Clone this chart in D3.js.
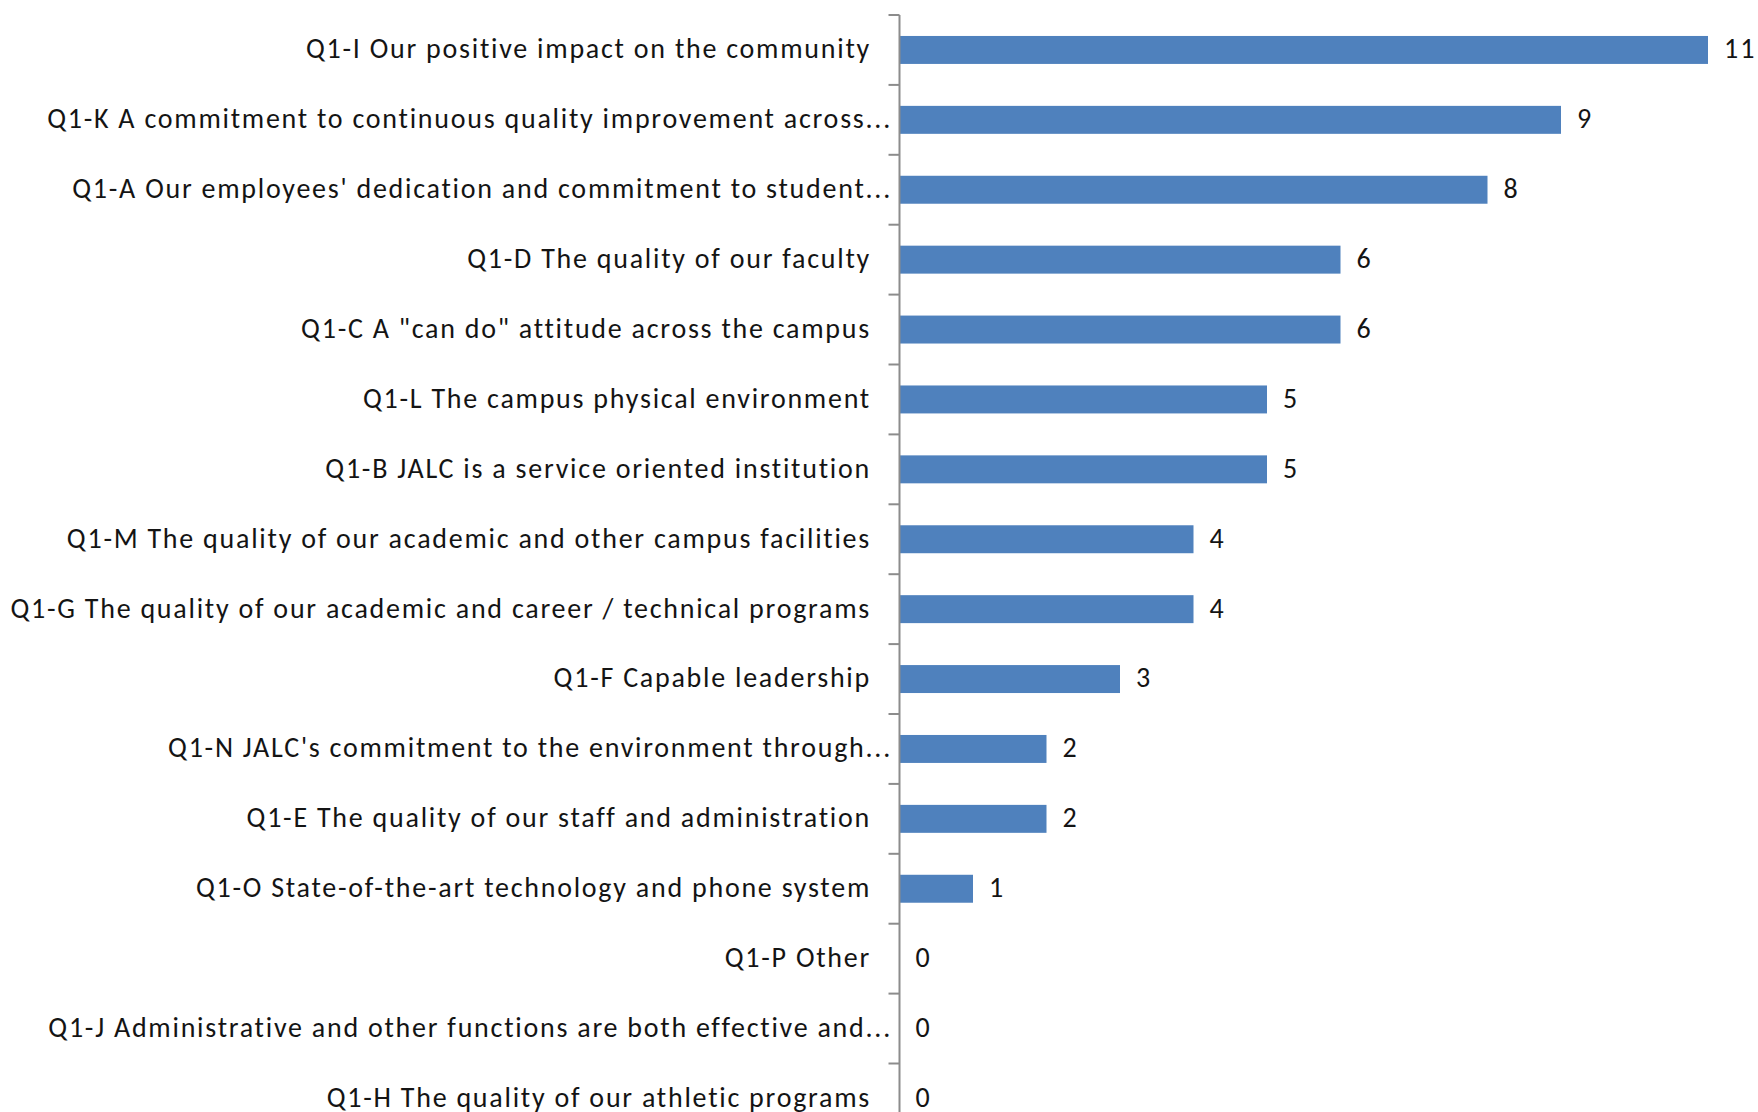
<!DOCTYPE html>
<html>
<head>
<meta charset="utf-8">
<script src="https://cdn.jsdelivr.net/npm/d3@7"></script>
<style>
  html, body { margin: 0; padding: 0; background: #ffffff; }
  svg { display: block; }
  text { font-family: Carlito, Lato, "Open Sans", sans-serif; fill: #141414; }
</style>
</head>
<body>
<svg id="chart" width="1758" height="1112"></svg>
<script>
// Survey item labels (as displayed, long ones truncated) and response counts
const categories = [
  "Q1-I Our positive impact on the community",
  "Q1-K A commitment to continuous quality improvement across...",
  "Q1-A Our employees' dedication and commitment to student...",
  "Q1-D The quality of our faculty",
  "Q1-C A \"can do\" attitude across the campus",
  "Q1-L The campus physical environment",
  "Q1-B JALC is a service oriented institution",
  "Q1-M The quality of our academic and other campus facilities",
  "Q1-G The quality of our academic and career / technical programs",
  "Q1-F Capable leadership",
  "Q1-N JALC's commitment to the environment through...",
  "Q1-E The quality of our staff and administration",
  "Q1-O State-of-the-art technology and phone system",
  "Q1-P Other",
  "Q1-J Administrative and other functions are both effective and...",
  "Q1-H The quality of our athletic programs"
];
const counts = [11, 9, 8, 6, 6, 5, 5, 4, 4, 3, 2, 2, 1, 0, 0, 0];

const svg = d3.select("#chart");
const axisX = 899.5;
const plotTop = 15;
const rowStep = 69.9;

const x = d3.scaleLinear().domain([0, 11]).range([axisX, 1708]);
const y = d3.scaleBand()
  .domain(categories)
  .range([plotTop, plotTop + rowStep * categories.length])
  .paddingInner(0.6)
  .paddingOuter(0.3);

const rows = categories.map((c, i) => ({ label: c, value: counts[i] }));

// bars
svg.append("g").selectAll("rect")
  .data(rows)
  .join("rect")
  .attr("x", x(0))
  .attr("y", d => y(d.label))
  .attr("width", d => x(d.value) - x(0))
  .attr("height", y.bandwidth())
  .attr("fill", "#4f81bd");

// value labels
svg.append("g").selectAll("text")
  .data(rows)
  .join("text")
  .attr("x", d => x(d.value) + 16)
  .attr("y", d => y(d.label) + y.bandwidth() / 2)
  .attr("dy", "0.3em")
  .attr("font-size", 28)
  .attr("letter-spacing", 2)
  .text(d => d.value);

// category axis: vertical line with ticks between categories
const gap = (y.step() - y.bandwidth()) / 2;
const bounds = categories.map(c => y(c) - gap).concat([y(categories[categories.length - 1]) + y.bandwidth() + gap]);
const axis = svg.append("g").attr("stroke", "#8c8c8c").attr("stroke-width", 2);
axis.append("line")
  .attr("x1", axisX).attr("x2", axisX)
  .attr("y1", bounds[0]).attr("y2", bounds[bounds.length - 1]);
axis.selectAll("line.tick")
  .data(bounds)
  .join("line")
  .attr("class", "tick")
  .attr("x1", axisX - 11).attr("x2", axisX)
  .attr("y1", d => d).attr("y2", d => d);

// category labels
svg.append("g").selectAll("text")
  .data(rows)
  .join("text")
  .attr("x", d => d.label.endsWith("...") ? 892 : 871)
  .attr("y", d => y(d.label) + y.bandwidth() / 2)
  .attr("dy", "0.3em")
  .attr("text-anchor", "end")
  .attr("font-size", 28)
  .attr("letter-spacing", 1.75)
  .text(d => d.label);
</script>
</body>
</html>
